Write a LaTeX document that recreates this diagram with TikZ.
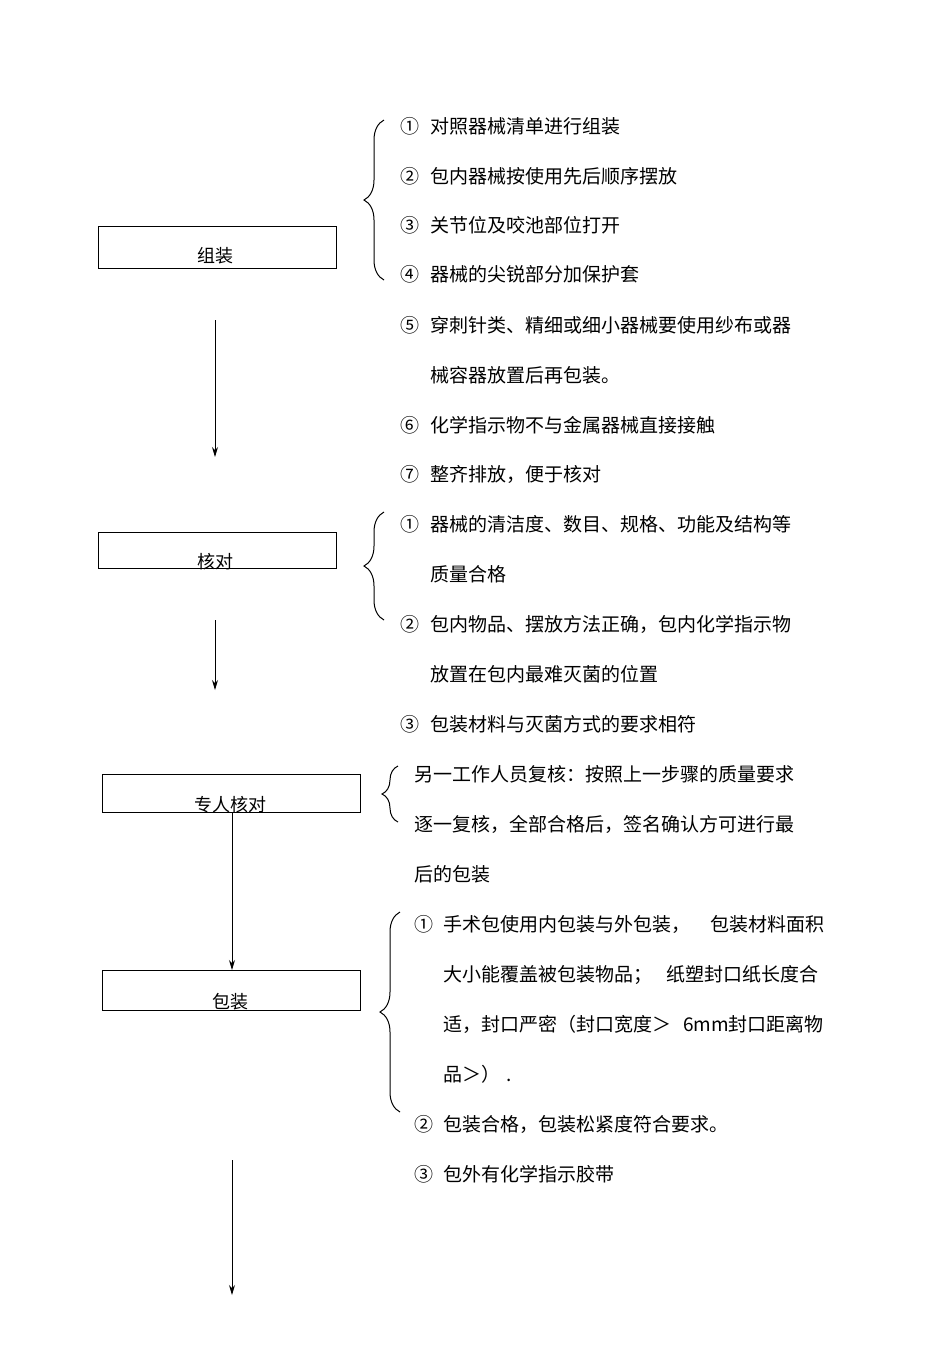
\documentclass[tikz,border=0pt]{standalone}
\usepackage{fontspec}
\setmainfont{Noto Sans CJK SC}
\usetikzlibrary{decorations.pathreplacing,arrows.meta}
\begin{document}
\begin{tikzpicture}[x=1pt,y=-1pt,
  box/.style={draw,line width=0.8pt},
  lbl/.style={font=\fontsize{18}{20}\selectfont},
  txt/.style={anchor=base west,inner sep=0pt,font=\fontsize{19}{22}\selectfont},
  arr/.style={-{Stealth[length=10pt,width=6pt]},line width=1pt},
  br/.style={decorate,decoration={brace,mirror,amplitude=20pt},line width=1pt}]
\useasboundingbox (0,0) rectangle (950,1345);
\draw[box] (98,226) rectangle (336,268);
\node[lbl] (b1) at (215,256) {组装};
\draw[box] (98,532) rectangle (336,568);
\node[lbl] (b2) at (215,562) {核对};
\draw[box] (102,774) rectangle (360,812);
\node[lbl] (b3) at (230,805) {专人核对};
\draw[box] (102,970) rectangle (360,1010);
\node[lbl] (b4) at (230,1002) {包装};
\coordinate (a1) at (215,320); \coordinate (a1e) at (215,457);
\coordinate (a2) at (215,620); \coordinate (a2e) at (215,690);
\coordinate (a3) at (232,812); \coordinate (a3e) at (232,970);
\coordinate (a4) at (232,1160); \coordinate (a4e) at (232,1295);
\draw[arr] (a1) -- (a1e);
\draw[arr] (a2) -- (a2e);
\draw[arr] (a3) -- (a3e);
\draw[arr] (a4) -- (a4e);
\coordinate (c1) at (384,120); \coordinate (c1e) at (384,280);
\coordinate (c2) at (384,512); \coordinate (c2e) at (384,620);
\coordinate (c3) at (398,766); \coordinate (c3e) at (398,822);
\coordinate (c4) at (400,912); \coordinate (c4e) at (400,1112);
\draw[br] (c1) -- (c1e);
\draw[br] (c2) -- (c2e);
\draw[br,decoration={amplitude=16pt}] (c3) -- (c3e);
\draw[br] (c4) -- (c4e);
\foreach \n/\t/\y in {①/对照器械清单进行组装/126,②/包内器械按使用先后顺序摆放/176,③/关节位及咬池部位打开/225,④/器械的尖锐部分加保护套/274,⑤/穿刺针类、精细或细小器械要使用纱布或器/325,⑥/化学指示物不与金属器械直接接触/425,⑦/整齐排放，便于核对/474,①/器械的清洁度、数目、规格、功能及结构等/524,②/包内物品、摆放方法正确，包内化学指示物/624,③/包装材料与灭菌方式的要求相符/724}{
  \node[txt] at (400,\y+7) {\n};
  \node[txt] at (430,\y+7) {\t};
}
\foreach \t/\y in {械容器放置后再包装。/375,质量合格/574,放置在包内最难灭菌的位置/674}{
  \node[txt] at (430,\y+7) {\t};
}
\foreach \t/\y in {另一工作人员复核：按照上一步骤的质量要求/774,逐一复核，全部合格后，签名确认方可进行最/824,后的包装/874}{
  \node[txt] at (414,\y+7) {\t};
}
\node[txt] at (414,931) {①}; \node[txt] at (443,931) {手术包使用内包装与外包装，\hspace{20pt}包装材料面积};
\node[txt] at (443,981) {大小能覆盖被包装物品；\hspace{14pt}纸塑封口纸长度合};
\node[txt] at (443,1031) {适，封口严密（封口宽度＞\hspace{12pt}6mm封口距离物};
\node[txt] at (443,1081) {品＞）\hspace{6pt}.};
\node[txt] at (414,1131) {②}; \node[txt] at (443,1131) {包装合格，包装松紧度符合要求。};
\node[txt] at (414,1181) {③}; \node[txt] at (443,1181) {包外有化学指示胶带};
\end{tikzpicture}
\end{document}
